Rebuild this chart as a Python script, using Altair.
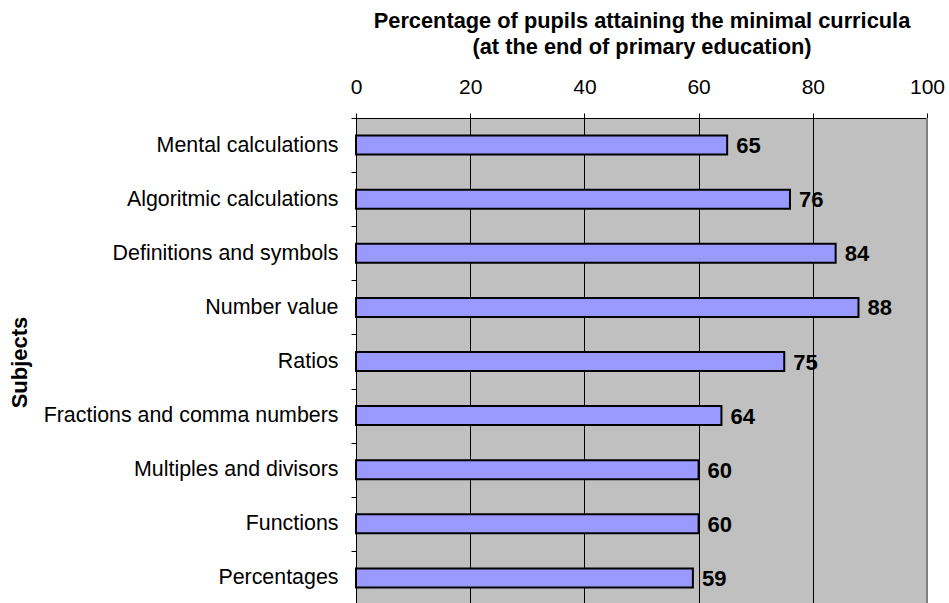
import altair as alt
import pandas as pd

subjects = [
    "Mental calculations",
    "Algoritmic calculations",
    "Definitions and symbols",
    "Number value",
    "Ratios\u00a0",
    "Fractions and comma numbers",
    "Multiples and divisors",
    "Functions",
    "Percentages",
]
percent = [65, 76, 84, 88, 75, 64, 60, 60, 59]
x_ticks = [0, 20, 40, 60, 80, 100]

df = pd.DataFrame({"subject": subjects, "percent": percent})

FONT = "Liberation Sans"

x_enc = alt.X(
    "percent:Q",
    scale=alt.Scale(domain=[0, 100], nice=False, zero=True),
    axis=alt.Axis(
        orient="top",
        values=x_ticks,
        title=["Percentage of pupils attaining the minimal curricula",
               "(at the end of primary education)"],
        titleFont=FONT,
        titleFontSize=21.8,
        titleFontWeight="bold",
        titleColor="black",
        titleLineHeight=26,
        titlePadding=18,
        labelFont=FONT,
        labelFontSize=21,
        labelColor="black",
        labelPadding=16,
        labelFlush=False,
        tickSize=5,
        tickColor="black",
        domainColor="black",
        grid=True,
        gridColor="black",
        gridWidth=1,
        gridOpacity=1,
    ),
)

y_enc = alt.Y(
    "subject:N",
    sort=subjects,
    scale=alt.Scale(range=[0, 487], paddingInner=0, paddingOuter=0),
    axis=alt.Axis(
        title="Subjects",
        titleFont=FONT,
        titleFontSize=22,
        titleFontWeight="bold",
        titleColor="black",
        titleX=-337,
        titleY=244,
        titleAngle=270,
        titleAlign="center",
        titleBaseline="middle",
        labelFont=FONT,
        labelFontSize=21.4,
        labelColor="black",
        labelPadding=13,
        labelLimit=400,
        tickBand="extent",
        tickSize=5,
        tickColor="black",
        domainColor="black",
        grid=False,
    ),
)

base = alt.Chart(df)

bars = base.mark_bar(
    size=19, color="#9999FF", stroke="black", strokeWidth=2
).encode(x=x_enc, y=y_enc)

values = base.mark_text(
    align="left", baseline="middle", dx=9, dy=1,
    font=FONT, fontSize=22, fontWeight="bold", color="black"
).encode(x="percent:Q", y=alt.Y("subject:N", sort=subjects), text="percent:Q")

right_edge = alt.Chart().mark_rule(color="#808080", strokeWidth=2).encode(
    x=alt.datum(100)
)

chart = (
    alt.layer(bars, right_edge, values)
    .properties(
        width=571,
        height=485,
        autosize=alt.AutoSizeParams(type="none"),
        padding={"left": 356, "top": 118, "right": 22, "bottom": 0},
        background="white",
    )
    .configure_view(fill="#C0C0C0", stroke=None)
)

chart.save("out.html", embed_options={"renderer": "svg", "actions": False})
